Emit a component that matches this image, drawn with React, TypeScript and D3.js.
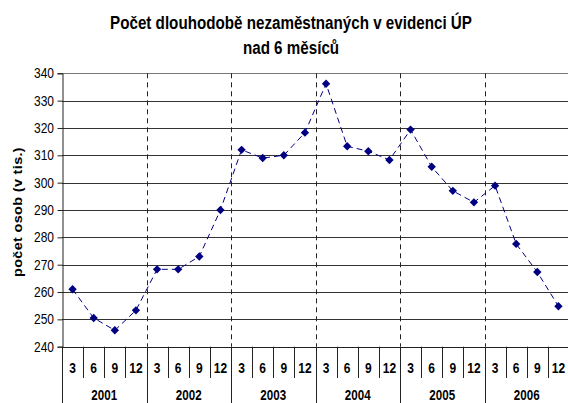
import { useEffect, useRef } from "react";
import * as d3 from "d3";

const years = ["2001", "2002", "2003", "2004", "2005", "2006"];
const months = ["3", "6", "9", "12"];
const values = [
  261, 250.5, 246, 253.3,
  268.3, 268.3, 273, 290,
  312, 309, 310, 318.3,
  336.2, 313.3, 311.5, 308.3,
  319.4, 305.8, 297, 292.8,
  298.9, 277.6, 267.3, 254.8,
];
const yTicks = [240, 250, 260, 270, 280, 290, 300, 310, 320, 330, 340];

const App = () => {
  const svgRef = useRef<SVGSVGElement>(null);

  useEffect(() => {
    const svg = d3.select(svgRef.current);
    svg.selectAll("*").remove();

    const width = 568;
    const height = 403;
    const left = 62;
    const right = 569;
    const top = 73.3;
    const bottom = 346.7;
    const font = "Arial, 'Liberation Sans', sans-serif";
    const stretch = 1.2; // the reference text is a bit taller than wide

    const cats = years.flatMap((y) => months.map((m) => `${y}-${m}`));
    const data = values.map((v, i) => ({ key: cats[i], month: months[i % 4], v }));

    const x = d3.scaleBand().domain(cats).range([left, right]);
    const xYear = d3.scaleBand().domain(years).range([left, right]);
    const y = d3.scaleLinear().domain([240, 340]).range([bottom, top]);

    svg.attr("width", width).attr("height", height);

    // Title
    const titleLines = ["Počet dlouhodobě nezaměstnaných v evidenci ÚP", "nad 6 měsíců"];
    svg
      .append("g")
      .selectAll("text")
      .data(titleLines)
      .join("text")
      .attr("transform", (d, i) => `translate(291,${i === 0 ? 29 : 53.5}) scale(1,${stretch})`)
      .attr("text-anchor", "middle")
      .attr("font-family", font)
      .attr("font-weight", "bold")
      .attr("font-size", 15.2)
      .attr("fill", "#000")
      .text((d) => d);

    // Horizontal gridlines
    svg
      .append("g")
      .selectAll("line")
      .data(yTicks.filter((t) => t > 240))
      .join("line")
      .attr("x1", left)
      .attr("x2", right)
      .attr("y1", (d) => Math.round(y(d)) + 0.5)
      .attr("y2", (d) => Math.round(y(d)) + 0.5)
      .attr("stroke", (d) => (d === 340 ? "#777" : "#333"))
      .attr("stroke-width", 1);

    // Year dividers
    svg
      .append("g")
      .selectAll("line")
      .data(years.slice(1))
      .join("line")
      .attr("x1", (d) => Math.round(xYear(d)!) + 0.5)
      .attr("x2", (d) => Math.round(xYear(d)!) + 0.5)
      .attr("y1", top)
      .attr("y2", bottom)
      .attr("stroke", "#222")
      .attr("stroke-dasharray", "5,4");

    // Y axis
    const yAxis = svg
      .append("g")
      .attr("transform", `translate(${left + 0.5},0)`)
      .call(d3.axisLeft(y).tickValues(yTicks).tickSize(5).tickFormat(d3.format("d")));
    yAxis.select(".domain").attr("stroke", "#222");
    yAxis.selectAll(".tick line").attr("stroke", "#222");
    yAxis
      .selectAll("text")
      .attr("font-family", font)
      .attr("font-size", 12)
      .attr("fill", "#000")
      .attr("x", -8.5)
      .attr("transform", `scale(1,${stretch})`);

    // X axis baseline
    svg
      .append("line")
      .attr("x1", left)
      .attr("x2", right)
      .attr("y1", Math.round(bottom) + 0.5)
      .attr("y2", Math.round(bottom) + 0.5)
      .attr("stroke", "#222");

    // Month separators (year boundaries run to the bottom)
    svg
      .append("g")
      .selectAll("line")
      .data(cats)
      .join("line")
      .attr("x1", (d) => Math.round(x(d)!) + 0.5)
      .attr("x2", (d) => Math.round(x(d)!) + 0.5)
      .attr("y1", bottom)
      .attr("y2", (d) => (d.endsWith("-3") ? height : 378))
      .attr("stroke", "#222");

    // Month labels
    svg
      .append("g")
      .selectAll("text")
      .data(data)
      .join("text")
      .attr("transform", (d) => `translate(${x(d.key)! + x.bandwidth() / 2},373) scale(1,${stretch})`)
      .attr("text-anchor", "middle")
      .attr("font-family", font)
      .attr("font-weight", "bold")
      .attr("font-size", 12)
      .text((d) => d.month);

    // Year labels
    svg
      .append("g")
      .selectAll("text")
      .data(years)
      .join("text")
      .attr("transform", (d) => `translate(${xYear(d)! + xYear.bandwidth() / 2},399.5) scale(1,${stretch})`)
      .attr("text-anchor", "middle")
      .attr("font-family", font)
      .attr("font-weight", "bold")
      .attr("font-size", 11.6)
      .text((d) => d);

    // Y axis title
    svg
      .append("text")
      .attr("transform", `translate(22,212) rotate(-90) scale(${stretch},1)`)
      .attr("text-anchor", "middle")
      .attr("font-family", font)
      .attr("font-weight", "bold")
      .attr("font-size", 12)
      .attr("letter-spacing", 0.3)
      .text("počet osob (v tis.)");

    // Series line
    const line = d3
      .line<{ key: string; v: number }>()
      .x((d) => x(d.key)! + x.bandwidth() / 2)
      .y((d) => y(d.v));

    svg
      .append("path")
      .datum(data)
      .attr("fill", "none")
      .attr("stroke", "#000080")
      .attr("stroke-width", 1)
      .attr("stroke-dasharray", "6,4")
      .attr("d", line);

    // Diamond markers
    svg
      .append("g")
      .selectAll("path")
      .data(data)
      .join("path")
      .attr("transform", (d) => `translate(${x(d.key)! + x.bandwidth() / 2},${y(d.v)})`)
      .attr("d", "M0,-4.2L4.2,0L0,4.2L-4.2,0Z")
      .attr("fill", "#000080");
  }, []);

  return <svg ref={svgRef} style={{ position: "absolute", left: 0, top: 0 }}></svg>;
};

export default App;
